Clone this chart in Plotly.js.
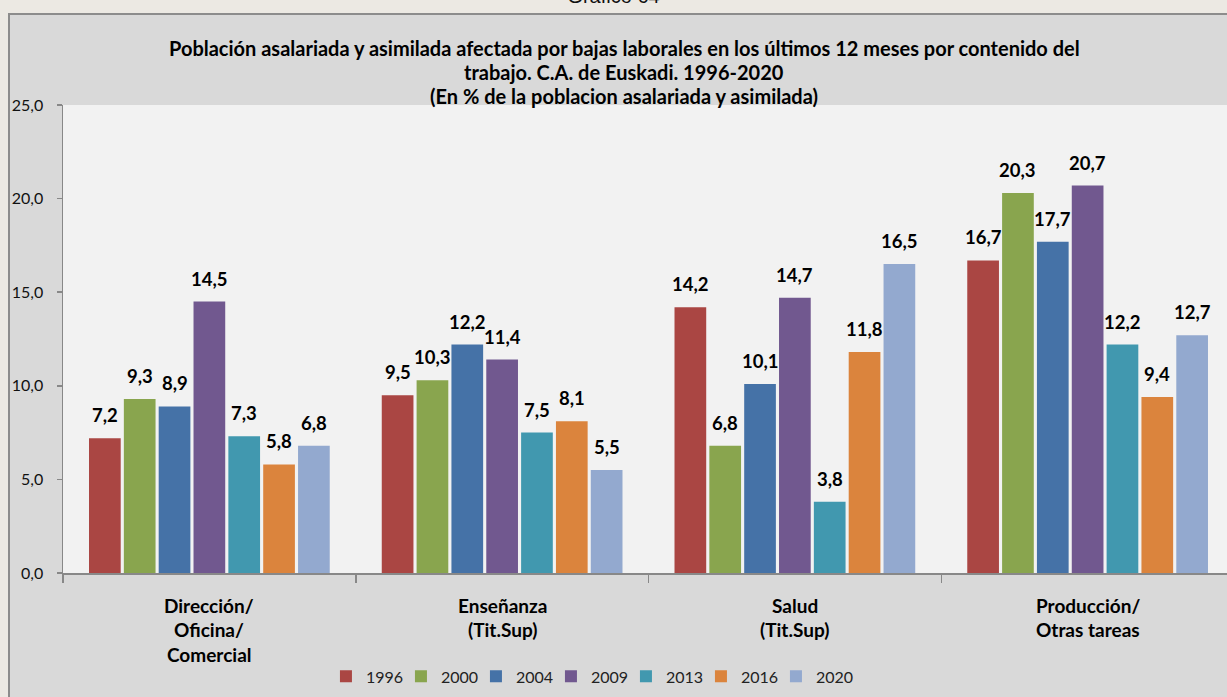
<!DOCTYPE html>
<html>
<head>
<meta charset="utf-8">
<script src="https://cdn.plot.ly/plotly-3.0.1.min.js"></script>
<style>
  html, body { margin:0; padding:0; width:1227px; height:697px; overflow:hidden; background:#ece9e3; }
  #cap { position:absolute; left:0; width:1227px; top:-15px; text-align:center;
         font-family:"Liberation Sans", Arial, sans-serif; font-size:20px; color:#111; }
  #frame { position:absolute; left:8px; top:13px; width:1300px; height:800px;
           border-left:2px solid #8c8c8c; border-top:2px solid #8c8c8c; background:#d9d9d9; }
  #chart { position:absolute; left:10px; top:15px; }
</style>
</head>
<body>
<div id="cap">Gráfico 64</div>
<div id="frame"></div>
<div id="chart"></div>
<script>
// ---- data ----
const categories = ["Dirección/ Oficina/ Comercial", "Enseñanza (Tit.Sup)", "Salud (Tit.Sup)", "Producción/ Otras tareas"];
const categoryLines = [["Dirección/", "Oficina/", "Comercial"], ["Enseñanza", "(Tit.Sup)"], ["Salud", "(Tit.Sup)"], ["Producción/", "Otras tareas"]];
const years = ["1996", "2000", "2004", "2009", "2013", "2016", "2020"];
const v1996 = [7.2, 9.5, 14.2, 16.7];
const v2000 = [9.3, 10.3, 6.8, 20.3];
const v2004 = [8.9, 12.2, 10.1, 17.7];
const v2009 = [14.5, 11.4, 14.7, 20.7];
const v2013 = [7.3, 7.5, 3.8, 12.2];
const v2016 = [5.8, 8.1, 11.8, 9.4];
const v2020 = [6.8, 5.5, 16.5, 12.7];
const seriesValues = [v1996, v2000, v2004, v2009, v2013, v2016, v2020];
const colors = ["#aa4643", "#89a54e", "#4572a7", "#71588f", "#4198af", "#db843d", "#93a9cf"];
const titleLines = [
  "Población asalariada y asimilada afectada por bajas laborales en los últimos 12 meses por contenido del",
  "trabajo. C.A. de Euskadi. 1996-2020",
  "(En % de la poblacion asalariada y asimilada)"
];
const yTicks = [0, 5, 10, 15, 20, 25];

// ---- layout constants ----
const W = 1240, H = 690;
const mL = 53, mT = 90, mB = 129, plotW = 1171;
const mR = W - mL - plotW;
const bargap = 0.167, bargroupgap = 0.09;
const boldFont = "Lato, 'Open Sans', sans-serif";

const catIdx = categories.map((c, i) => i);

const traces = seriesValues.map((vals, j) => ({
  type: "bar",
  name: years[j],
  x: catIdx,
  y: vals,
  marker: { color: colors[j], line: { width: 0 } },
  hoverinfo: "name+y"
}));
// invisible spacer entry so the last legend label is not clipped
traces.push({
  type: "scatter", mode: "markers", name: " ", x: [null], y: [null],
  marker: { color: "rgba(0,0,0,0)", size: 1 }, hoverinfo: "skip", showlegend: true
});

const annotations = [];
// data labels
const n = years.length;
const slot = (1 - bargap) / n;
seriesValues.forEach((vals, j) => {
  const off = -(1 - bargap) / 2 + (j + 0.5) * slot;
  vals.forEach((v, i) => {
    annotations.push({
      x: i + off, y: v, xref: "x", yref: "y",
      text: "<b>" + v.toFixed(1).replace(".", ",") + "</b>",
      showarrow: false, yanchor: "middle", xanchor: "center", yshift: 23,
      font: { family: boldFont, size: 18.5, color: "#000" }
    });
  });
});
// category labels
categoryLines.forEach((lines, i) => {
  lines.forEach((t, k) => {
    annotations.push({
      x: i, y: 0, xref: "x", yref: "paper",
      text: "<b>" + t + "</b>", showarrow: false,
      yanchor: "middle", xanchor: "center", yshift: -32 - k * 24.5,
      font: { family: boldFont, size: 19, color: "#000" }
    });
  });
});
// title lines
const titleCenterX = (624 - 63) / plotW;
titleLines.forEach((t, k) => {
  annotations.push({
    x: titleCenterX, y: 1, xref: "paper", yref: "paper",
    text: "<b>" + t + "</b>", showarrow: false,
    yanchor: "middle", xanchor: "center", yshift: 57 - k * 24,
    font: { family: boldFont, size: 20, color: "#000" }
  });
});

const layout = {
  width: W, height: H,
  margin: { l: mL, r: mR, t: mT, b: mB, pad: 0 },
  paper_bgcolor: "#d9d9d9",
  plot_bgcolor: "#f2f2f2",
  separators: ",.",
  barmode: "group",
  bargap: bargap,
  bargroupgap: bargroupgap,
  showlegend: true,
  legend: {
    orientation: "h", x: (330 - mL) / plotW - 0.012, xanchor: "left",
    y: -0.221, yanchor: "middle",
    bgcolor: "rgba(0,0,0,0)",
    font: { family: "Lato, sans-serif", size: 16, color: "#222" },
    entrywidth: 30, entrywidthmode: "pixels",
    traceorder: "normal"
  },
  xaxis: {
    type: "linear",
    range: [-0.5, categories.length - 0.5],
    showgrid: false, zeroline: false,
    showline: true, linecolor: "#888888", linewidth: 1.5,
    tickmode: "array", tickvals: [-0.5, 0.5, 1.5, 2.5, 3.5], ticktext: ["", "", "", "", ""],
    ticks: "outside", ticklen: 8, tickwidth: 1.5, tickcolor: "#888888",
    showticklabels: false, fixedrange: true
  },
  yaxis: {
    range: [0, 25],
    tickmode: "array", tickvals: yTicks,
    tickformat: ".1f",
    showgrid: false, zeroline: false,
    showline: true, linecolor: "#888888", linewidth: 1.5,
    ticks: "outside", ticklen: 5, tickwidth: 1.5, tickcolor: "#888888",
    ticklabelstandoff: 10,
    tickfont: { family: "Lato, sans-serif", size: 16, color: "#111" },
    fixedrange: true
  },
  annotations: annotations
};

Plotly.newPlot("chart", traces, layout, { displayModeBar: false, staticPlot: true });
</script>
</body>
</html>
